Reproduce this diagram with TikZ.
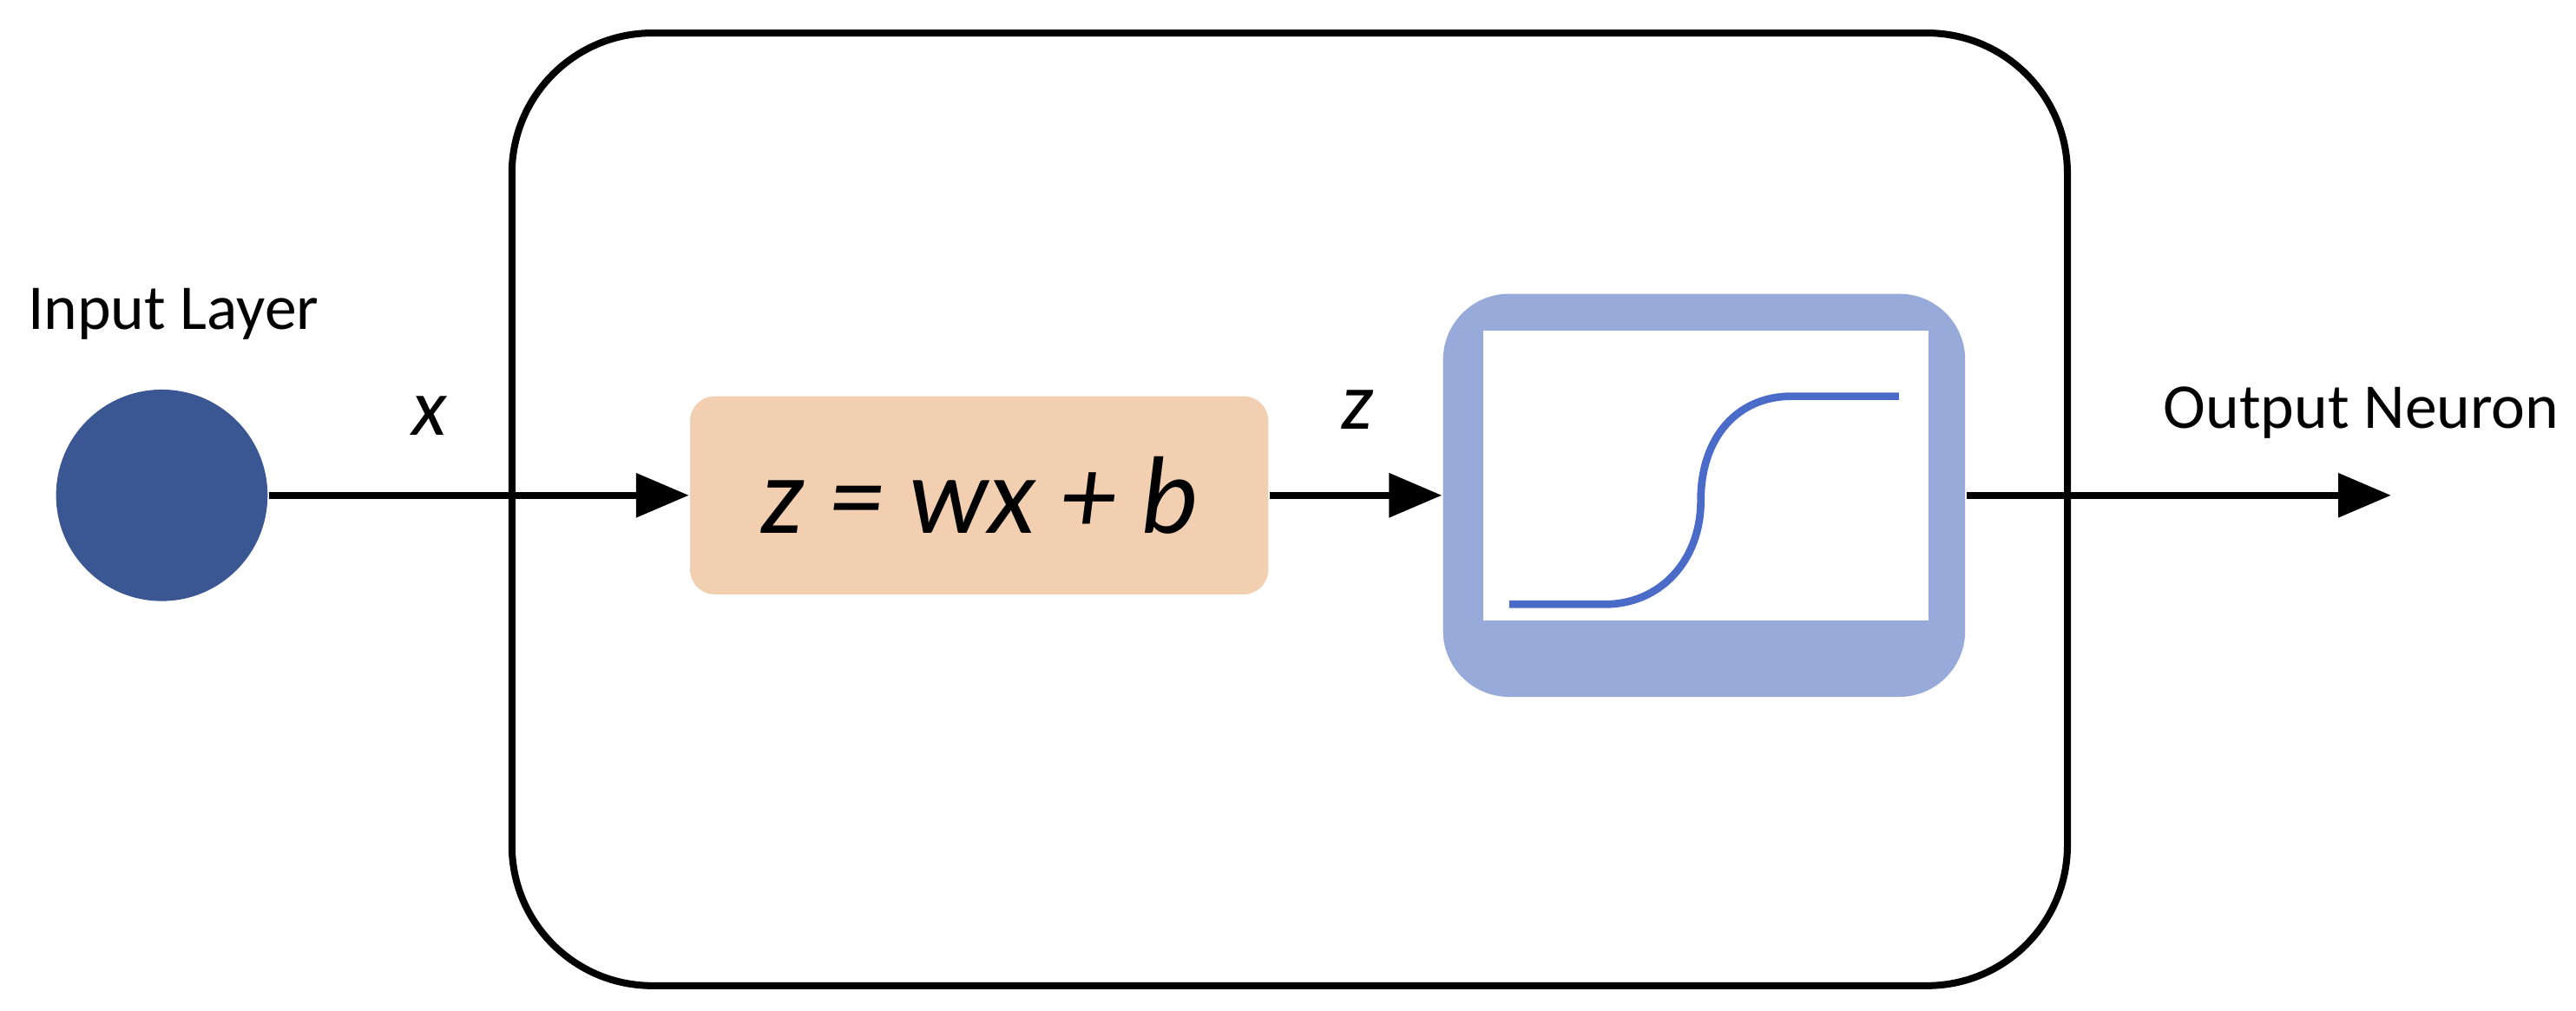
\documentclass[tikz,border=0pt]{standalone}
\usepackage{fontspec}
\setmainfont{Carlito}
\usetikzlibrary{arrows.meta}
\definecolor{dblue}{HTML}{3A5794}
\definecolor{orng}{HTML}{F2CFB0}
\definecolor{lblue}{HTML}{97AAD9}
\definecolor{sigc}{HTML}{4A6CC8}
\begin{document}
\begin{tikzpicture}[x=0.01cm,y=-0.01cm,
  conn/.style={line width=1.2pt,-{Triangle[length=0.32cm,width=0.26cm]}},
  lbl/.style={font=\fontsize{11}{13}\selectfont}]
\useasboundingbox (0,0) rectangle (1560,612);
\draw[line width=1.2pt,rounded corners=0.85cm] (310,20) rectangle (1252,597);
\node[circle,fill=dblue,minimum size=1.28cm,inner sep=0] (in) at (98,300) {};
\node[lbl] at (105,190) {Input Layer};
\node[font=\fontsize{14}{16}\selectfont\itshape] at (260,252) {x};
\node[fill=orng,rounded corners=0.15cm,minimum width=3.5cm,minimum height=1.2cm,font=\fontsize{19}{22}\selectfont\itshape] (lin) at (593,300) {z = wx + b};
\node[font=\fontsize{14}{16}\selectfont\itshape] at (822,248) {z};
\node[fill=lblue,rounded corners=0.4cm,minimum width=3.16cm,minimum height=2.44cm] (act) at (1032,300) {};
\fill[white] (898,200) rectangle (1168,376);
\draw[sigc,line width=1.3pt] (914,366) -- (972,366) .. controls (1005,366) and (1030,340) .. (1030,303) .. controls (1030,265) and (1052,240) .. (1085,240) -- (1150,240);
\draw[conn] (in) -- (lin);
\draw[conn] (lin) -- (act);
\coordinate (out) at (1448,300);
\draw[conn] (act) -- (out);
\node[lbl] at (1430,250) {Output Neuron};
\end{tikzpicture}
\end{document}
